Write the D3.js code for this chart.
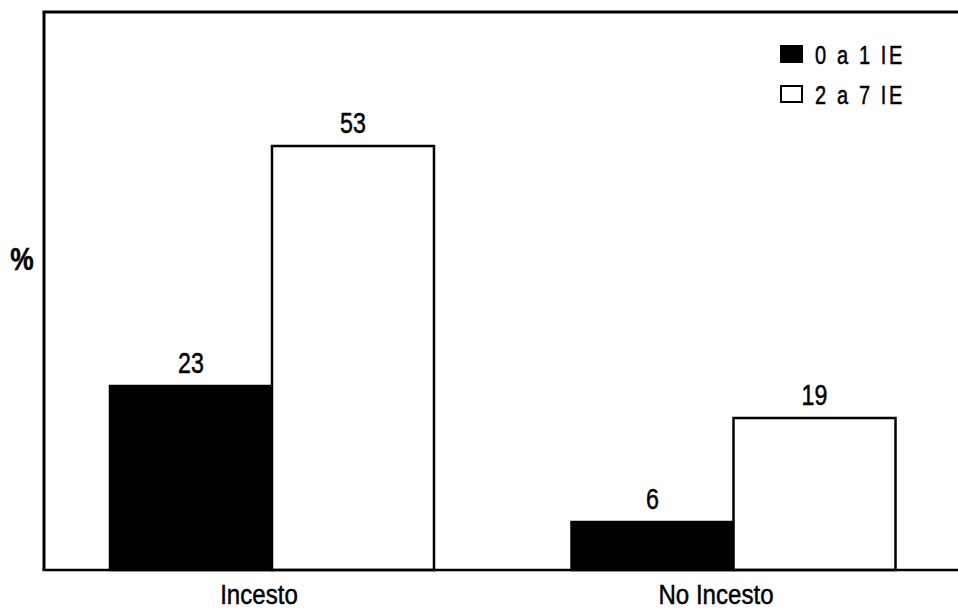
<!DOCTYPE html>
<html>
<head>
<meta charset="utf-8">
<script src="https://cdn.jsdelivr.net/npm/d3@7"></script>
<style>
  html, body { margin: 0; padding: 0; background: #fff; }
  svg { display: block; }
  text { font-family: "Liberation Sans", Arial, sans-serif; fill: #000; stroke: #000; stroke-width: 0.5; }
</style>
</head>
<body>
<svg id="chart" width="958" height="611"></svg>
<script>
const categories = ["Incesto", "No Incesto"];
const seriesNames = ["0 a 1 IE", "2 a 7 IE"];
const values01 = [23, 6];
const values27 = [53, 19];
const seriesFills = ["#000000", "#ffffff"];

const svg = d3.select("#chart");
const W = 958, H = 611;
const mLeft = 44, mTop = 12, mBottom = 570, mRight = 961.5;
const narrow = 0.86;

const x0 = d3.scaleBand().domain(categories).range([mLeft, mRight])
  .paddingInner(0.298).paddingOuter(0.143);
const x1 = d3.scaleBand().domain(seriesNames).range([0, x0.bandwidth()]);
const y = d3.scaleLinear().domain([0, 69.75]).range([mBottom, mTop]);

const rows = categories.map((c, i) => ({
  cat: c,
  vals: [
    { s: seriesNames[0], v: values01[i], fill: seriesFills[0] },
    { s: seriesNames[1], v: values27[i], fill: seriesFills[1] }
  ]
}));

function narrowText(sel, x, yy, sx) {
  return sel.attr("transform", (d, i) => `translate(${x(d, i)},${yy(d, i)}) scale(${sx},1)`);
}

const g = svg.append("g");
const groups = g.selectAll("g.grp").data(rows).join("g")
  .attr("class", "grp")
  .attr("transform", d => `translate(${x0(d.cat)},0)`);

groups.selectAll("rect").data(d => d.vals).join("rect")
  .attr("x", d => x1(d.s))
  .attr("y", d => y(d.v))
  .attr("width", x1.bandwidth())
  .attr("height", d => y(0) - y(d.v))
  .attr("fill", d => d.fill)
  .attr("stroke", "#000")
  .attr("stroke-width", 2.5);

narrowText(groups.selectAll("text.val").data(d => d.vals).join("text")
  .attr("class", "val")
  .attr("text-anchor", "middle")
  .attr("font-size", 29)
  .text(d => d.v),
  d => x1(d.s) + x1.bandwidth() / 2, d => y(d.v) - 13, 0.8);

// frame: left, top and bottom lines
g.append("line").attr("x1", mLeft).attr("x2", mLeft).attr("y1", mTop).attr("y2", mBottom)
  .attr("stroke", "#000").attr("stroke-width", 3);
g.append("line").attr("x1", mLeft - 1.5).attr("x2", W).attr("y1", mTop).attr("y2", mTop)
  .attr("stroke", "#000").attr("stroke-width", 3);
g.append("line").attr("x1", mLeft - 1.5).attr("x2", W).attr("y1", mBottom).attr("y2", mBottom)
  .attr("stroke", "#000").attr("stroke-width", 2.5);

// category labels
const labelOffset = [-13, -17.5];
narrowText(g.selectAll("text.cat").data(categories).join("text")
  .attr("class", "cat")
  .attr("text-anchor", "middle")
  .attr("font-size", 28)
  .text(d => d),
  (d, i) => x0(d) + x0.bandwidth() / 2 + labelOffset[i], () => 604, narrow);

// y axis label
g.append("text").attr("transform", "translate(22,270) scale(0.85,1)")
  .attr("text-anchor", "middle")
  .attr("font-size", 31).attr("font-weight", "bold").attr("stroke-width", 0).text("%");

// legend
const leg = g.append("g").attr("transform", "translate(780,45)");
const li = leg.selectAll("g").data(seriesNames).join("g")
  .attr("transform", (d, i) => `translate(0,${i * 40})`);
li.append("rect").attr("x", 1).attr("y", 1).attr("width", 21).attr("height", 16)
  .attr("fill", (d, i) => seriesFills[i]).attr("stroke", "#000").attr("stroke-width", 2);
li.append("text").attr("transform", "translate(35,18.5) scale(0.8,1)").attr("font-size", 25)
  .attr("letter-spacing", 3.3).text(d => d);
</script>
</body>
</html>
